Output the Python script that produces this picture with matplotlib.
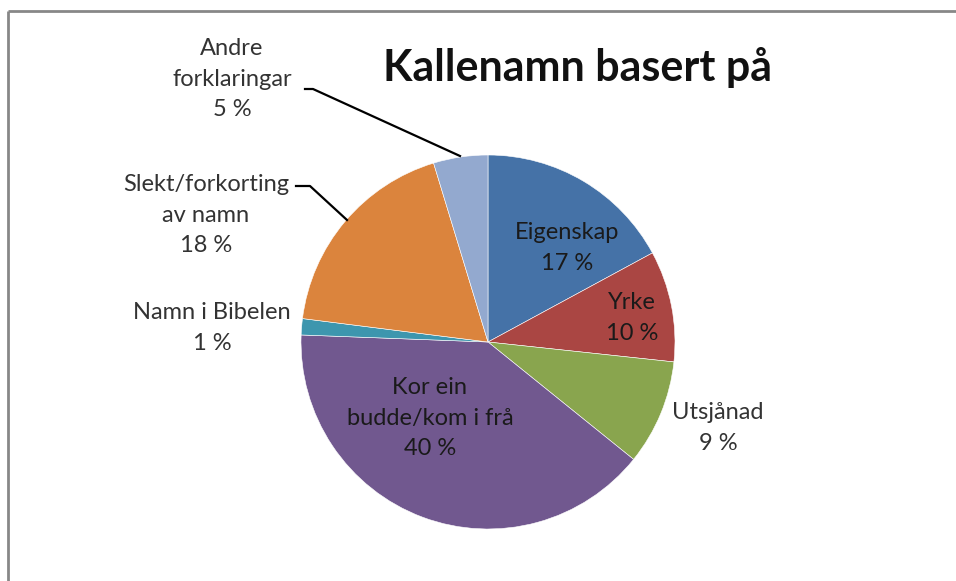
import matplotlib
matplotlib.use("Agg")
import matplotlib.pyplot as plt

plt.rcParams["font.family"] = ["Lato", "DejaVu Sans"]

# data (shares, labels as printed)
categories = ["Eigenskap", "Yrke", "Utsjånad", "Kor ein\nbudde/kom i frå",
              "Namn i Bibelen", "Slekt/forkorting\nav namn", "Andre\nforklaringar"]
shares = [17.1, 9.6, 9.1, 39.8, 1.4, 18.3, 4.7]
colors = ["#4572A7", "#AA4643", "#89A54E", "#71588F", "#3D96AE", "#DB843D", "#93A9CF"]
title = "Kallenamn basert på"

W, H = 956, 581
fig = plt.figure(figsize=(W / 100, H / 100), dpi=100)
ax = fig.add_axes([0, 0, 1, 1])


def py(y):
    # pixel row (from top) -> data y
    return H - y


cx, cy, r = 488, 342, 187
ax.pie(shares, colors=colors, startangle=90, counterclock=False,
       center=(cx, py(cy)), radius=r,
       wedgeprops=dict(edgecolor="white", linewidth=0.4))
ax.set_xlim(0, W)
ax.set_ylim(0, H)
ax.set_aspect("equal")
ax.axis("off")

# chart border (top and left visible)
ax.plot([8, W], [py(11), py(11)], color="#878787", lw=2, solid_capstyle="butt")
ax.plot([8, 8], [py(11), 0], color="#878787", lw=2, solid_capstyle="butt")

ax.text(578, py(68), title, ha="center", va="center", fontsize=31,
        fontweight="bold", color="#111111")

# label positions (pixel centres) and text colours
label_pos = [(567, 248), (632, 318), (718, 428), (430, 418),
             (212, 328), (206, 215), (232, 79)]
label_col = ["#1a1a1a", "#1a1a1a", "#333333", "#1a1a1a", "#333333", "#333333", "#333333"]
for name, val, (x, y), c in zip(categories, shares, label_pos, label_col):
    ax.text(x, py(y), f"{name}\n{val:.0f} %", ha="center", va="center",
            fontsize=17, color=c, linespacing=1.55)

# leader lines
ax.plot([305, 313, 460], [py(89), py(89), py(156)], color="black", lw=1.6)
ax.plot([296, 310, 347], [py(186), py(186), py(220)], color="black", lw=1.6)

fig.savefig("out.png", dpi=100)
